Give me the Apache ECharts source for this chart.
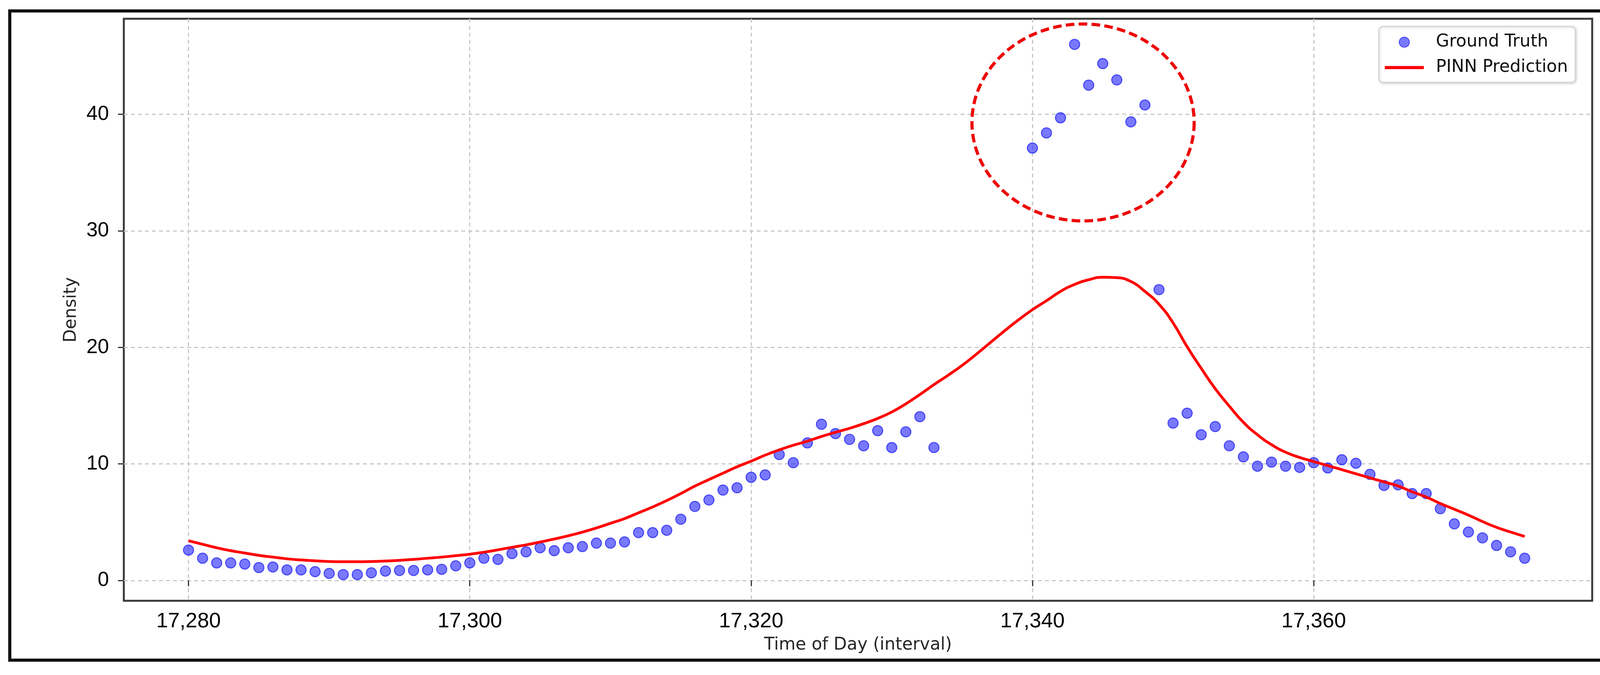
<!DOCTYPE html>
<html>
<head>
<meta charset="utf-8">
<title>Ground Truth vs PINN Prediction</title>
<script src="https://cdn.jsdelivr.net/npm/echarts@6/dist/echarts.min.js"></script>
<style>
  html, body { margin: 0; padding: 0; background: #fff; }
  #chart { width: 4142px; height: 1728px; }
</style>
</head>
<body>
<div id="chart"></div>
<script>
// time index on the x axis (one per interval)
var timeIndex = [
  17280, 17281, 17282, 17283, 17284, 17285, 17286, 17287, 17288, 17289,
  17290, 17291, 17292, 17293, 17294, 17295, 17296, 17297, 17298, 17299,
  17300, 17301, 17302, 17303, 17304, 17305, 17306, 17307, 17308, 17309,
  17310, 17311, 17312, 17313, 17314, 17315, 17316, 17317, 17318, 17319,
  17320, 17321, 17322, 17323, 17324, 17325, 17326, 17327, 17328, 17329,
  17330, 17331, 17332, 17333, 17334, 17335, 17336, 17337, 17338, 17339,
  17340, 17341, 17342, 17343, 17344, 17345, 17346, 17347, 17348, 17349,
  17350, 17351, 17352, 17353, 17354, 17355, 17356, 17357, 17358, 17359,
  17360, 17361, 17362, 17363, 17364, 17365, 17366, 17367, 17368, 17369,
  17370, 17371, 17372, 17373, 17374, 17375
];

// observed density (null = no observation)
var groundTruth = [
  2.6, 1.9, 1.5, 1.5, 1.4, 1.1, 1.15, 0.9, 0.9, 0.75,
  0.6, 0.5, 0.5, 0.65, 0.8, 0.85, 0.85, 0.9, 0.95, 1.25,
  1.5, 1.9, 1.8, 2.3, 2.45, 2.8, 2.55, 2.8, 2.9, 3.2,
  3.2, 3.3, 4.1, 4.1, 4.3, 5.25, 6.35, 6.9, 7.75, 7.95,
  8.85, 9.05, 10.8, 10.1, 11.8, 13.4, 12.6, 12.1, 11.55, 12.85,
  11.4, 12.75, 14.05, 11.4, null, null, null, null, null, null,
  37.1, 38.4, 39.7, 46.0, 42.5, 44.35, 42.95, 39.35, 40.8, 24.95,
  13.5, 14.35, 12.5, 13.2, 11.55, 10.6, 9.8, 10.15, 9.8, 9.7,
  10.1, 9.65, 10.35, 10.05, 9.1, 8.15, 8.2, 7.45, 7.45, 6.15,
  4.85, 4.15, 3.65, 3.0, 2.45, 1.9
];

// model output
var pinnPrediction = [
  3.4, 3.1, 2.8, 2.55, 2.35, 2.15, 2.0, 1.85, 1.75, 1.68,
  1.62, 1.6, 1.6, 1.62, 1.66, 1.72, 1.8, 1.9, 2.0, 2.12,
  2.25, 2.42, 2.62, 2.84, 3.05, 3.29, 3.55, 3.83, 4.14, 4.5,
  4.9, 5.3, 5.8, 6.3, 6.85, 7.45, 8.09, 8.65, 9.2, 9.75,
  10.23, 10.75, 11.2, 11.6, 11.95, 12.35, 12.71, 13.05, 13.45, 13.9,
  14.45, 15.15, 15.95, 16.8, 17.6, 18.45, 19.4, 20.4, 21.4, 22.35,
  23.23, 24.0, 24.8, 25.4, 25.8, 26.02, 25.98, 25.65, 24.8, 23.7,
  22.1, 20.05, 18.2, 16.45, 14.95, 13.57, 12.5, 11.65, 11.0, 10.55,
  10.2, 9.85, 9.5, 9.15, 8.8, 8.45, 8.1, 7.6, 7.15, 6.6,
  6.1, 5.6, 5.05, 4.55, 4.15, 3.77
];

// ticks
var xTicks = [17280, 17300, 17320, 17340, 17360];
var yTicks = [0, 10, 20, 30, 40];

// dashed outlier ring: centre x, centre y, radius x, radius y (data units)
var outlierRing = [[17343.6, 39.3, 7.9, 8.45]];

var chart = echarts.init(document.getElementById('chart'));

var scatterData = [];
var lineData = [];
for (var i = 0; i < timeIndex.length; i++) {
  if (groundTruth[i] !== null) scatterData.push([timeIndex[i], groundTruth[i]]);
  lineData.push([timeIndex[i], pinnPrediction[i]]);
}

var tickFont = 'Liberation Sans';
var titleFont = 'DejaVu Sans';

var option = {
  backgroundColor: '#fff',
  animation: false,
  graphic: [{
    type: 'rect',
    shape: { x: 25, y: 28, width: 4092, height: 1662 },
    style: { fill: 'none', stroke: '#111', lineWidth: 8 },
    z: 100
  }],
  legend: {
    data: [
      { name: 'Ground Truth' },
      { name: 'PINN Prediction', itemStyle: { opacity: 0 }, lineStyle: { width: 8, color: '#ff0000' } }
    ],
    orient: 'vertical',
    left: 3530,
    top: 68,
    padding: [15, 19, 13, 11],
    itemGap: 15,
    itemWidth: 100,
    itemHeight: 26,
    backgroundColor: '#fff',
    borderColor: '#d4d4d4',
    borderWidth: 3,
    borderRadius: 10,
    shadowBlur: 6,
    shadowColor: 'rgba(0,0,0,0.15)',
    shadowOffsetX: 2,
    shadowOffsetY: 2,
    textStyle: {
      fontFamily: titleFont,
      fontSize: 44,
      color: '#111',
      lineHeight: 50,
      padding: [0, 0, 0, 26]
    }
  },
  grid: {
    left: 317,
    right: 66,
    top: 48,
    bottom: 190,
    show: true,
    borderColor: '#3a3a3a',
    borderWidth: 5,
    backgroundColor: '#fff'
  },
  xAxis: {
    type: 'value',
    min: 17275.4,
    max: 17379.8,
    name: 'Time of Day (interval)',
    nameLocation: 'middle',
    nameGap: 92,
    nameTextStyle: { fontFamily: titleFont, fontSize: 44, color: '#262626' },
    axisLine: { show: false },
    axisTick: {
      show: true, inside: false, length: 15,
      customValues: xTicks,
      lineStyle: { color: '#333', width: 3 }
    },
    axisLabel: {
      customValues: xTicks,
      margin: 26,
      fontFamily: tickFont,
      fontSize: 54,
      color: '#000',
      formatter: function (v) { return v.toLocaleString('en-US'); }
    },
    splitLine: {
      show: true,
      lineStyle: { color: '#c8c8c8', width: 3, type: [10, 8] }
    }
  },
  yAxis: {
    type: 'value',
    min: -1.75,
    max: 48.2,
    name: 'Density',
    nameLocation: 'middle',
    nameGap: 112,
    nameTextStyle: { fontFamily: titleFont, fontSize: 44, color: '#262626' },
    axisLine: { show: false },
    axisTick: {
      show: true, inside: false, length: 15,
      customValues: yTicks,
      lineStyle: { color: '#333', width: 3 }
    },
    axisLabel: {
      customValues: yTicks,
      margin: 38,
      fontFamily: tickFont,
      fontSize: 52,
      color: '#000'
    },
    splitLine: {
      show: true,
      lineStyle: { color: '#c8c8c8', width: 3, type: [10, 8] }
    }
  },
  series: [
    {
      name: 'Ground Truth',
      type: 'scatter',
      data: scatterData,
      symbol: 'circle',
      symbolSize: 26,
      itemStyle: {
        color: 'rgba(0,0,255,0.66)',
        borderColor: 'rgba(0,0,240,0.8)',
        borderWidth: 2.5
      },
      z: 3
    },
    {
      name: 'PINN Prediction',
      type: 'line',
      data: lineData,
      smooth: 0.5,
      symbol: 'none',
      lineStyle: { color: '#ff0000', width: 7 },
      itemStyle: { color: '#ff0000' },
      z: 4
    },
    {
      name: 'outlier ring',
      type: 'custom',
      data: outlierRing,
      silent: true,
      z: 5,
      renderItem: function (params, api) {
        var c = api.coord([api.value(0), api.value(1)]);
        var r = api.size([api.value(2), api.value(3)]);
        var pts = [];
        for (var k = 0; k < 180; k++) {
          var a = k / 180 * Math.PI * 2;
          pts.push([c[0] + r[0] * Math.cos(a), c[1] + r[1] * Math.sin(a)]);
        }
        return {
          type: 'polygon',
          shape: { points: pts },
          style: { fill: null, stroke: '#ee0000', lineWidth: 8, lineDash: [22, 11] }
        };
      }
    }
  ]
};

chart.setOption(option);
</script>
</body>
</html>
